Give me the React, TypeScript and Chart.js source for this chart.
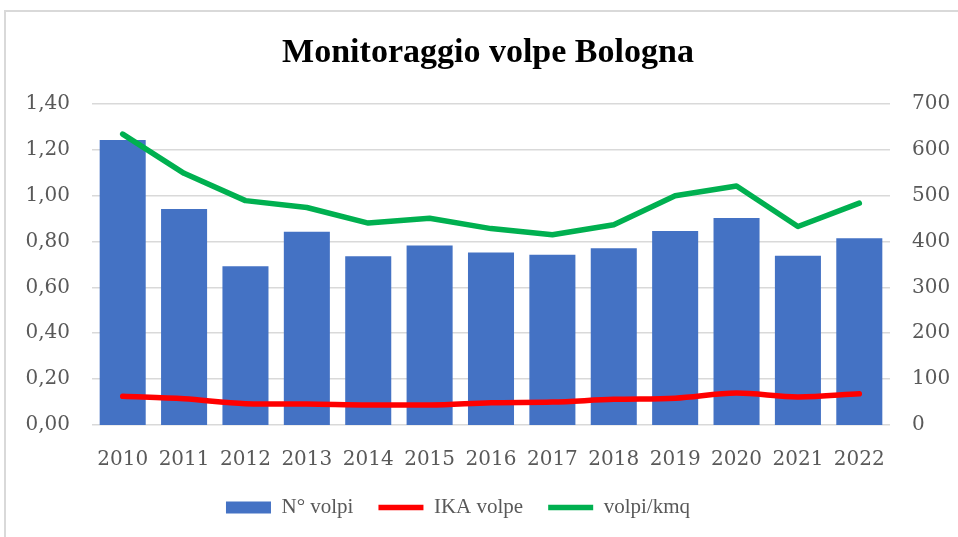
import React, { useEffect, useRef } from "react";
import { Chart, registerables } from "chart.js";

Chart.register(...registerables);

const years = ["2010", "2011", "2012", "2013", "2014", "2015", "2016", "2017", "2018", "2019", "2020", "2021", "2022"];
const nVolpi = [621, 471, 346, 421, 368, 391, 376, 371, 385, 423, 451, 369, 407];
const ikaVolpe = [0.125, 0.114, 0.093, 0.091, 0.087, 0.087, 0.097, 0.1, 0.112, 0.117, 0.139, 0.122, 0.136];
const volpiKmq = [1.268, 1.097, 0.978, 0.948, 0.88, 0.901, 0.856, 0.829, 0.873, 0.999, 1.042, 0.865, 0.967];

const TITLE = "Monitoraggio volpe Bologna";
const TICK_COLOR = "#595959";
const GRID_COLOR = "#D9D9D9";

const boxShift = {
  id: "boxShift",
  afterLayout(chart: any) {
    const lg = chart.legend;
    if (lg) {
      lg.left -= 21;
      lg.right -= 21;
    }
    const tt = chart.titleBlock;
    if (tt) {
      tt.left += 9;
      tt.right += 9;
    }
  },
};

export default function App() {
  const ref = useRef<HTMLCanvasElement | null>(null);

  useEffect(() => {
    if (!ref.current) return;
    const tickFont = { family: "'DejaVu Serif'", size: 20 };
    const chart = new Chart(ref.current, {
      type: "bar",
      plugins: [boxShift],
      data: {
        labels: years,
        datasets: [
          {
            type: "bar",
            label: "N° volpi",
            data: nVolpi,
            yAxisID: "y1",
            backgroundColor: "#4472C4",
            borderWidth: 0,
            barPercentage: 0.75,
            categoryPercentage: 1,
            pointStyle: "rect",
            order: 2,
          } as any,
          {
            type: "line",
            label: "IKA volpe",
            data: ikaVolpe,
            yAxisID: "y",
            borderColor: "#FF0000",
            backgroundColor: "#FF0000",
            borderWidth: 5.5,
            borderCapStyle: "round",
            borderJoinStyle: "round",
            pointRadius: 0,
            cubicInterpolationMode: "monotone",
            pointStyle: "line",
            order: 1,
          } as any,
          {
            type: "line",
            label: "volpi/kmq",
            data: volpiKmq,
            yAxisID: "y",
            borderColor: "#00B050",
            backgroundColor: "#00B050",
            borderWidth: 5.5,
            borderCapStyle: "round",
            borderJoinStyle: "round",
            pointRadius: 0,
            tension: 0,
            pointStyle: "line",
            order: 0,
          } as any,
        ],
      },
      options: {
        responsive: false,
        animation: false,
        layout: { padding: { left: 0, right: 0, top: 0, bottom: 9 } },
        plugins: {
          title: {
            display: true,
            text: TITLE,
            color: "#000000",
            font: { family: "'Liberation Serif'", size: 34, weight: "bold" },
            padding: { top: 33, bottom: 30 },
          },
          legend: {
            display: true,
            position: "bottom",
            labels: {
              color: TICK_COLOR,
              font: { family: "'Liberation Serif'", size: 21 },
              usePointStyle: true,
              pointStyleWidth: 45,
              boxHeight: 12,
              padding: 25,
              sort: (a: any, b: any) => a.datasetIndex - b.datasetIndex,
            },
          },
          tooltip: { enabled: false },
        },
        scales: {
          x: {
            grid: { display: false, drawTicks: false },
            border: { display: false },
            ticks: { color: TICK_COLOR, font: tickFont, padding: 23, maxRotation: 0 },
            afterFit: (s: any) => {
              s.height = 47;
            },
          },
          y: {
            position: "left",
            min: 0,
            max: 1.4,
            grid: { color: GRID_COLOR, lineWidth: 1.5, drawTicks: false },
            border: { display: false },
            ticks: {
              stepSize: 0.2,
              color: TICK_COLOR,
              font: tickFont,
              padding: 22,
              callback: (v: any) => Number(v).toFixed(2).replace(".", ","),
            },
            afterFit: (s: any) => {
              s.width = 92;
            },
          },
          y1: {
            position: "right",
            min: 0,
            max: 700,
            grid: { display: false, drawTicks: false },
            border: { display: false },
            ticks: { stepSize: 100, color: TICK_COLOR, font: tickFont, padding: 22 },
            afterFit: (s: any) => {
              s.width = 68;
            },
          },
        },
      } as any,
    });
    return () => chart.destroy();
  }, []);

  return (
    <div style={{ position: "fixed", left: 0, top: 0, width: 958, height: 537, overflow: "hidden", background: "#fff" }}>
      <div
        style={{
          position: "absolute",
          left: 4,
          top: 10,
          width: 980,
          height: 560,
          border: "2px solid #D9D9D9",
          boxSizing: "border-box",
        }}
      />
      <canvas ref={ref} width={958} height={537} style={{ position: "absolute", left: 0, top: 0 }} />
    </div>
  );
}
